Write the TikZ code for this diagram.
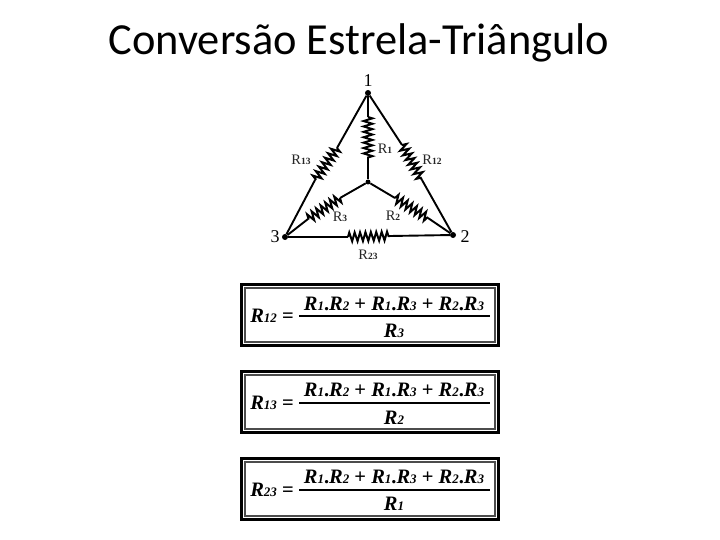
\documentclass[tikz,border=0pt]{standalone}
\usepackage{fontspec}
\setmainfont{Liberation Serif}
\newfontfamily\titlefont{Carlito}
\usetikzlibrary{decorations.pathmorphing}
\newcommand{\rs}[1]{R{\fontsize{9.5}{10}\selectfont\bfseries #1}}
\newcommand{\fr}[1]{\textbf{\textit{R}}{\fontsize{13}{14}\selectfont\bfseries\itshape #1}}
\tikzset{
  wire/.style={line width=1.9pt,black},
  res/.style={line width=2pt,black,decorate,decoration={zigzag,amplitude=4.4pt,segment length=5.4pt}},
  dot/.style={circle,fill=black,inner sep=0pt,minimum size=6pt},
  lab/.style={font=\fontsize{14.5}{15}\selectfont,inner sep=0pt,text=black!85},
  num/.style={font=\fontsize{18}{19}\selectfont,inner sep=0pt},
  outerframe/.style={draw=black,line width=3.4pt,fill=white},
  innerframe/.style={draw=black!70,line width=1.2pt},
  fbar/.style={line width=1.5pt},
  ftext/.style={font=\fontsize{20.5}{22}\selectfont,inner sep=0pt}
}
\begin{document}
\begin{tikzpicture}[x=1pt,y=-1pt]
\useasboundingbox (0,0) rectangle (720,540);
\fill[white] (0,0) rectangle (720,540);
\node[font=\titlefont\fontsize{44.4}{50}\selectfont,inner sep=0pt] (title) at (359,43) {Conversão Estrela-Triângulo};
% junctions
\node[dot] (n1) at (368,93) {};
\node[dot] (n2) at (453,235) {};
\node[dot] (n3) at (285,237) {};
\node[dot,minimum size=5pt] (c) at (368,182) {};
% resistor ends
\coordinate (r1a) at (368,117); \coordinate (r1b) at (368,158);
\coordinate (r12a) at (402,145); \coordinate (r12b) at (422,180);
\coordinate (r13a) at (337,148); \coordinate (r13b) at (315,180);
\coordinate (r3a) at (340,198); \coordinate (r3b) at (308,219);
\coordinate (r2a) at (395,198); \coordinate (r2b) at (428,218);
\coordinate (r23a) at (348,237); \coordinate (r23b) at (390,236);
% wires
\draw[wire] (n1) -- (r1a); \draw[res] (r1a) -- (r1b); \draw[wire] (r1b) -- (c);
\draw[wire] (n1) -- (r12a); \draw[res] (r12a) -- (r12b); \draw[wire] (r12b) -- (n2);
\draw[wire] (n1) -- (r13a); \draw[res] (r13a) -- (r13b); \draw[wire] (r13b) -- (n3);
\draw[wire] (c) -- (r3a); \draw[res] (r3a) -- (r3b); \draw[wire] (r3b) -- (n3);
\draw[wire] (c) -- (r2a); \draw[res] (r2a) -- (r2b); \draw[wire] (r2b) -- (n2);
\draw[wire] (n3) -- (r23a); \draw[res] (r23a) -- (r23b); \draw[wire] (r23b) -- (n2);
% labels
\node[num] (l1) at (368,81) {1};
\node[num] (l2) at (465,237) {2};
\node[num] (l3) at (275,237) {3};
\node[lab] (lr13) at (301,160) {\rs{13}};
\node[lab] (lr12) at (432,160) {\rs{12}};
\node[lab] (lr1) at (385,149) {\rs{1}};
\node[lab] (lr3) at (340,217) {\rs{3}};
\node[lab] (lr2) at (393,216) {\rs{2}};
\node[lab] (lr23) at (368,255) {\rs{23}};
% formula 1
\draw[outerframe] (241.5,284.5) rectangle (498.5,345.5);
\draw[innerframe] (245,288) rectangle (495,342);
\node[ftext] (a1) at (272,316) {\fr{12} \textbf{=}};
\draw[fbar] (299,316) -- (490,316);
\node[ftext] (a2) at (394,304) {\fr{1}\textbf{.}\fr{2} \textbf{+} \fr{1}\textbf{.}\fr{3} \textbf{+} \fr{2}\textbf{.}\fr{3}};
\node[ftext] (a3) at (394,331) {\fr{3}};
% formula 2
\draw[outerframe] (241.5,371.5) rectangle (498.5,432.5);
\draw[innerframe] (245,375) rectangle (495,429);
\node[ftext] (b1) at (272,403) {\fr{13} \textbf{=}};
\draw[fbar] (299,403) -- (490,403);
\node[ftext] (b2) at (394,390) {\fr{1}\textbf{.}\fr{2} \textbf{+} \fr{1}\textbf{.}\fr{3} \textbf{+} \fr{2}\textbf{.}\fr{3}};
\node[ftext] (b3) at (394,418) {\fr{2}};
% formula 3
\draw[outerframe] (241.5,458.5) rectangle (498.5,519.5);
\draw[innerframe] (245,462) rectangle (495,516);
\node[ftext] (d1) at (272,490) {\fr{23} \textbf{=}};
\draw[fbar] (299,490) -- (490,490);
\node[ftext] (d2) at (394,477) {\fr{1}\textbf{.}\fr{2} \textbf{+} \fr{1}\textbf{.}\fr{3} \textbf{+} \fr{2}\textbf{.}\fr{3}};
\node[ftext] (d3) at (394,504) {\fr{1}};
\end{tikzpicture}
\end{document}
